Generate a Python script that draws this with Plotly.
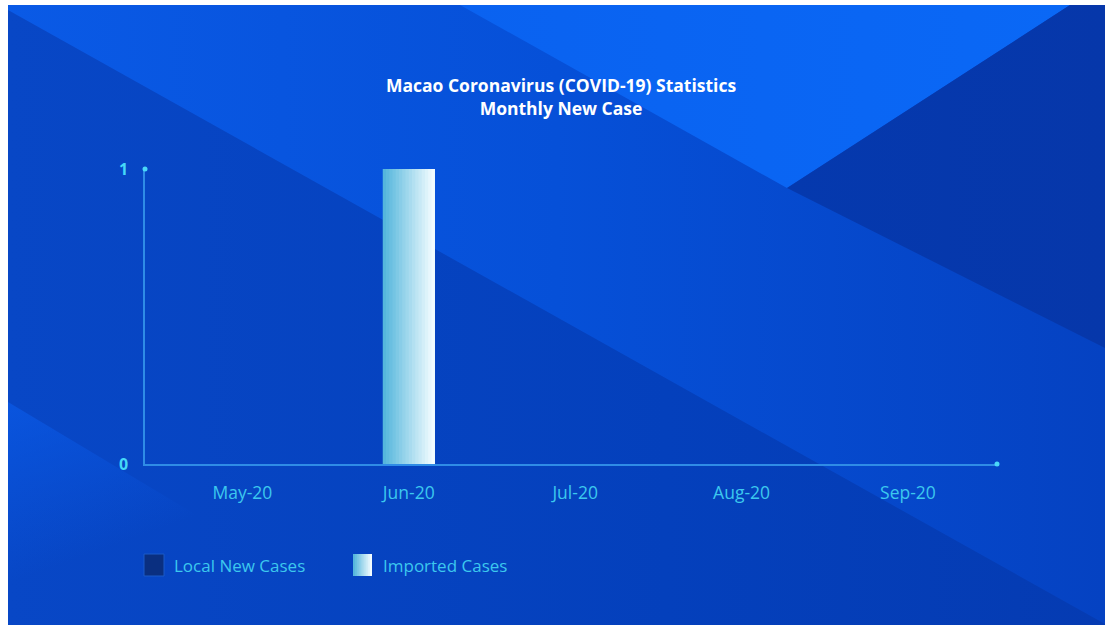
import base64
import plotly.graph_objects as go

# ---------------- data ----------------
months = ["May-20", "Jun-20", "Jul-20", "Aug-20", "Sep-20"]
local_new_cases = [0, 0, 0, 0, 0]
imported_cases = [0, 1, 0, 0, 0]
y_ticks = [0, 1]
title_lines = ["Macao Coronavirus (COVID-19) Statistics", "Monthly New Case"]
legend_labels = ["Local New Cases", "Imported Cases"]

# ---------------- geometry (figure pixels) ----------------
W, H = 1105, 625
ML, MR, MT, MB = 145, 108, 169, 161
PW, PH = W - ML - MR, H - MT - MB

def px(x):  # figure px -> paper x
    return (x - ML) / PW

def py(y):  # figure px (from top) -> paper y
    return 1 - (y - MT) / PH

# ---------------- background (decorative SVG) ----------------
svg = f"""<svg xmlns='http://www.w3.org/2000/svg' width='{W}' height='{H}' viewBox='0 0 {W} {H}' preserveAspectRatio='none'>
<defs>
<linearGradient id='gA' x1='0' y1='0' x2='1' y2='0'><stop offset='0' stop-color='#0a5ae6'/><stop offset='0.5' stop-color='#0650d8'/><stop offset='1' stop-color='#0542c2'/></linearGradient>
<linearGradient id='gB' x1='0' y1='0' x2='1' y2='0'><stop offset='0' stop-color='#0847c6'/><stop offset='0.6' stop-color='#0440bc'/><stop offset='1' stop-color='#053bb2'/></linearGradient>
<linearGradient id='gC' x1='0' y1='0' x2='1' y2='0'><stop offset='0' stop-color='#0a62f0'/><stop offset='1' stop-color='#0a68f6'/></linearGradient>
<linearGradient id='gD' x1='0' y1='0' x2='0.6' y2='1'><stop offset='0' stop-color='#0a58e4' stop-opacity='0.8'/><stop offset='0.6' stop-color='#0a58e4' stop-opacity='0'/></linearGradient>
<linearGradient id='gE' x1='0' y1='0' x2='1' y2='0'><stop offset='0' stop-color='#0539ae'/><stop offset='1' stop-color='#0637aa'/></linearGradient>
</defs>
<rect x='0' y='0' width='{W}' height='{H}' fill='#ffffff'/>
<polygon points='8,5 {W},5 {W},{H} 8,{H}' fill='url(#gA)'/>
<polygon points='8,10 {W},624 {W},{H} 8,{H}' fill='url(#gB)'/>
<polygon points='460,5 1070,5 787,188' fill='url(#gC)'/>
<polygon points='787,188 1070,5 {W},5 {W},348' fill='url(#gE)'/>
<polygon points='8,402 380,625 8,625' fill='url(#gD)'/>
</svg>"""
bg_uri = "data:image/svg+xml;base64," + base64.b64encode(svg.encode()).decode()

fig = go.Figure()

bar_w = 0.3125

# Local new cases (all zero)
fig.add_trace(go.Bar(x=months, y=local_new_cases, name=legend_labels[0],
                     marker=dict(color="#0a2f80", line=dict(width=0)),
                     width=bar_w, showlegend=False, hoverinfo="skip"))

# Imported cases drawn as horizontal-gradient slices of the same bar
N = 16
c0 = (0x55, 0xb6, 0xdc)
c1 = (0xf2, 0xfc, 0xff)
for i in range(N):
    t = i / (N - 1)
    col = "rgb({},{},{})".format(*[round(a + (b - a) * t) for a, b in zip(c0, c1)])
    step = bar_w / N
    fig.add_trace(go.Bar(x=months, y=imported_cases, name=legend_labels[1],
                         width=(bar_w - i * step), offset=-bar_w / 2 + i * step,
                         marker=dict(color=col, line=dict(width=0)),
                         showlegend=False, hoverinfo="skip"))

axis_col = "#2f8ce6"
tick_col = "#3cc8ee"

shapes = []
# endpoint dots of axes
shapes.append(dict(type="circle", xref="x domain", yref="y domain", xsizemode="pixel", ysizemode="pixel",
                   xanchor=0, yanchor=1, x0=-2.5, x1=2.5, y0=-2.5, y1=2.5,
                   fillcolor="#4ad8f8", line=dict(width=0), layer="above"))
shapes.append(dict(type="circle", xref="x domain", yref="y domain", xsizemode="pixel", ysizemode="pixel",
                   xanchor=1, yanchor=0, x0=-2.5, x1=2.5, y0=-2.5, y1=2.5,
                   fillcolor="#4ad8f8", line=dict(width=0), layer="above"))

# custom legend
shapes.append(dict(type="rect", xref="paper", yref="paper",
                   x0=px(144), x1=px(164), y0=py(576), y1=py(554),
                   fillcolor="#0a2f80", line=dict(color="#1a5bc8", width=1)))
NL = 10
for i in range(NL):
    t = i / (NL - 1)
    col = "rgb({},{},{})".format(*[round(a + (b - a) * t) for a, b in zip(c0, c1)])
    x0 = 353 + i * 19 / NL
    shapes.append(dict(type="rect", xref="paper", yref="paper",
                       x0=px(x0), x1=px(372), y0=py(576), y1=py(554),
                       fillcolor=col, line=dict(width=0)))

legend_font = dict(family="Open Sans", size=17, color=tick_col)
annotations = [
    dict(text=legend_labels[0], x=px(172), y=py(565), xref="paper", yref="paper",
         xanchor="left", yanchor="middle", showarrow=False, font=legend_font),
    dict(text=legend_labels[1], x=px(381), y=py(565), xref="paper", yref="paper",
         xanchor="left", yanchor="middle", showarrow=False, font=legend_font),
]

fig.update_layout(
    width=W, height=H,
    margin=dict(l=ML, r=MR, t=MT, b=MB),
    paper_bgcolor="#ffffff",
    plot_bgcolor="rgba(0,0,0,0)",
    barmode="overlay",
    showlegend=False,
    title=dict(text="<b>" + title_lines[0] + "<br>" + title_lines[1] + "</b>",
               x=561 / W, xanchor="center", y=1 - 92 / H, yanchor="middle", yref="container",
               font=dict(family="Open Sans", size=17.5, color="#ffffff")),
    xaxis=dict(type="category", categoryorder="array", categoryarray=months,
               range=[-0.585, 4.535], showgrid=False, zeroline=False,
               showline=True, linecolor=axis_col, linewidth=1.5,
               ticks="outside", ticklen=12, tickcolor="rgba(0,0,0,0)",
               tickfont=dict(family="Open Sans", size=17.5, color=tick_col)),
    yaxis=dict(range=[0, 1.0], tickvals=y_ticks, showgrid=False, zeroline=False,
               showline=True, linecolor=axis_col, linewidth=1.5,
               ticks="outside", ticklen=12, tickcolor="rgba(0,0,0,0)",
               tickfont=dict(family="Open Sans", size=16, color="#45d8f8", weight="bold")),
    images=[dict(source=bg_uri, xref="paper", yref="paper",
                 x=px(0), y=py(0), sizex=W / PW, sizey=H / PH,
                 xanchor="left", yanchor="top", sizing="stretch", layer="below")],
    shapes=shapes,
    annotations=annotations,
)

fig.write_html("out.html")
